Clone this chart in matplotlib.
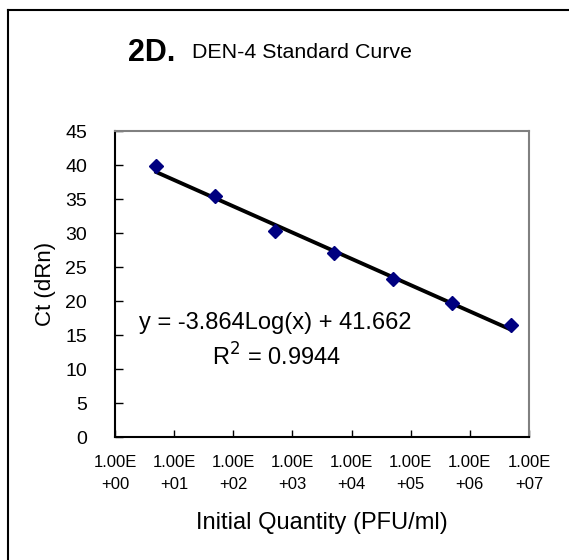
import numpy as np
import matplotlib
matplotlib.use("Agg")
import matplotlib.pyplot as plt
from matplotlib.lines import Line2D

plt.rcParams['font.family'] = ['Liberation Sans', 'DejaVu Sans']

# standard curve data (PFU/ml vs Ct)
quantity = [5, 50, 500, 5000, 50000, 500000, 5000000]
ct_values = [39.8, 35.4, 30.3, 27.0, 23.2, 19.7, 16.5]

# trendline as printed on the chart
slope = -3.864
intercept = 41.662
r_squared = 0.9944

tick_exponents = [0, 1, 2, 3, 4, 5, 6, 7]
tick_labels = ["1.00E\n+%02d" % e for e in tick_exponents]
y_ticks = [0, 5, 10, 15, 20, 25, 30, 35, 40, 45]

fig = plt.figure(figsize=(5.69, 5.6), dpi=100)
ax = fig.add_axes([0.2021, 0.2196, 0.7276, 0.5464])

# trend line
xs = np.logspace(np.log10(quantity[0]), np.log10(quantity[-1]), 50)
ax.plot(xs, slope * np.log10(xs) + intercept, color='black', lw=2.8, zorder=2)

ax.plot(quantity, ct_values, linestyle='none', marker='D', markersize=7.5,
        color='#000080', zorder=3)

ax.set_xscale('log')
ax.set_xlim(1, 1e7)
ax.set_ylim(0, 45)
ax.set_xticks([10.0 ** e for e in tick_exponents])
ax.set_xticklabels(tick_labels, fontsize=12, linespacing=1.6)
ax.xaxis.set_minor_locator(matplotlib.ticker.NullLocator())
ax.set_yticks(y_ticks)
ax.tick_params(axis='y', direction='in', length=6, width=1, labelsize=14, pad=20)
ax.tick_params(axis='x', direction='in', length=5, width=1, pad=13)

for s in ['left', 'bottom']:
    ax.spines[s].set_color('black')
    ax.spines[s].set_linewidth(1.5)
for s in ['top', 'right']:
    ax.spines[s].set_color('#808080')
    ax.spines[s].set_linewidth(1.5)

ax.set_xlabel("Initial Quantity (PFU/ml)", fontsize=17, labelpad=14)
ax.set_ylabel("Ct (dRn)", fontsize=16, labelpad=7)

ax.text(0.388, 0.373, "y = %.3fLog(x) + %.3f" % (slope, intercept),
        transform=ax.transAxes, ha='center', va='center', fontsize=17)
ax.text(0.391, 0.261, "R$^2$ = %.4f" % r_squared,
        transform=ax.transAxes, ha='center', va='center', fontsize=17)

fig.text(128 / 569, 1 - 53 / 560, "2D.", fontsize=22, fontweight='bold', ha='left', va='center')
fig.text(192 / 569, 1 - 53 / 560, "DEN-4 Standard Curve", fontsize=15.4, ha='left', va='center')

# outer frame (only top and left edges visible)
fig.add_artist(Line2D([8 / 569, 8 / 569], [0, 1 - 10 / 560], color='black', lw=1.5))
fig.add_artist(Line2D([8 / 569, 1], [1 - 10 / 560, 1 - 10 / 560], color='black', lw=1.5))

fig.savefig("out.png", dpi=100, facecolor='white')
